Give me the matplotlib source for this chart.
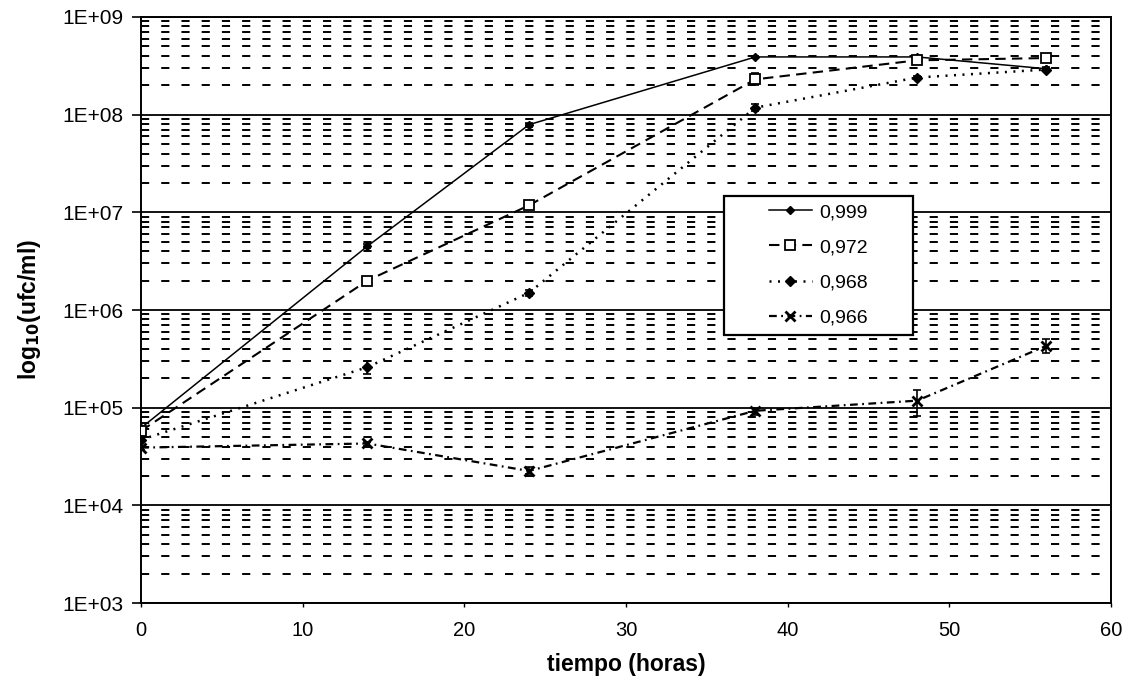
import matplotlib
matplotlib.use("Agg")
import matplotlib.pyplot as plt
from matplotlib.ticker import FixedLocator, LogLocator, NullFormatter, FixedFormatter
from matplotlib.patches import Rectangle
import numpy as np

plt.rcParams['font.family'] = ['Liberation Sans', 'DejaVu Sans']

# ---- data ----
time_h = [0, 14, 24, 38, 48, 56]
labels = ["0,999", "0,972", "0,968", "0,966"]
aw_0999 = [6.2e4, 4.5e6, 7.9e7, 3.9e8, 3.9e8, 2.95e8]
aw_0972 = [5.8e4, 2.0e6, 1.18e7, 2.3e8, 3.6e8, 3.8e8]
aw_0968 = [4.7e4, 2.6e5, 1.5e6, 1.18e8, 2.4e8, 2.9e8]
aw_0966 = [3.9e4, 4.3e4, 2.25e4, 9.3e4, 1.18e5, 4.3e5]
# error bar limits (lower, upper)
lo_0999 = [6.0e4, 4.3e6, 7.5e7, 3.8e8, 3.8e8, 2.85e8]
hi_0999 = [6.4e4, 4.7e6, 8.3e7, 4.0e8, 4.0e8, 3.05e8]
lo_0972 = [5.6e4, 1.9e6, 1.07e7, 2.0e8, 3.5e8, 3.5e8]
hi_0972 = [6.0e4, 2.1e6, 1.3e7, 2.7e8, 3.7e8, 4.1e8]
lo_0968 = [4.5e4, 2.2e5, 1.4e6, 1.08e8, 2.3e8, 2.8e8]
hi_0968 = [4.9e4, 3.0e5, 1.6e6, 1.28e8, 2.5e8, 3.0e8]
lo_0966 = [3.7e4, 4.1e4, 2.1e4, 8.5e4, 8.3e4, 3.6e5]
hi_0966 = [4.1e4, 4.5e4, 2.45e4, 1.0e5, 1.5e5, 5.1e5]
x_ticks = [0, 10, 20, 30, 40, 50, 60]
y_ticks = [1e3, 1e4, 1e5, 1e6, 1e7, 1e8, 1e9]
y_ticklabels = ["1E+03", "1E+04", "1E+05", "1E+06", "1E+07", "1E+08", "1E+09"]

fig = plt.figure(figsize=(11.33, 6.80), dpi=100)
ax = fig.add_axes([0.1245, 0.1132, 0.8561, 0.8618])
ax.set_yscale('log')
ax.set_xlim(0, 60)
ax.set_ylim(1e3, 1e9)

series = [
    (aw_0999, lo_0999, hi_0999, dict(linestyle='-', lw=1.1, marker='D', ms=4.5,
                                     mfc='black', mec='black')),
    (aw_0972, lo_0972, hi_0972, dict(linestyle=(0, (5, 3)), lw=1.5, marker='s', ms=6.5,
                                     mfc='white', mec='black', mew=1.3)),
    (aw_0968, lo_0968, hi_0968, dict(linestyle=(0, (0.8, 2.6)), lw=1.8, marker='D', ms=5.5,
                                     mfc='black', mec='black')),
    (aw_0966, lo_0966, hi_0966, dict(linestyle=(0, (3.5, 2, 0.8, 2)), lw=1.6, marker='x', ms=6.5,
                                     mfc='black', mec='black', mew=2)),
]
handles = []
for (vals, lo, hi, st), lab in zip(series, labels):
    v = np.array(vals)
    yerr = [v - np.array(lo), np.array(hi) - v]
    ax.errorbar(time_h, vals, yerr=yerr, fmt='none', ecolor='black',
                elinewidth=1.2, capsize=3, capthick=1.2, zorder=3)
    h, = ax.plot(time_h, vals, color='black', label=lab, zorder=3, **st)
    handles.append(h)

# grid
ax.yaxis.set_major_locator(FixedLocator(y_ticks))
ax.yaxis.set_major_formatter(FixedFormatter(y_ticklabels))
ax.yaxis.set_minor_locator(LogLocator(base=10, subs=np.arange(2, 10), numticks=20))
ax.yaxis.set_minor_formatter(NullFormatter())
ax.set_xticks(x_ticks)
ax.grid(which='major', axis='y', color='black', lw=1.3, linestyle='-')
ax.grid(which='minor', axis='y', color='black', lw=1.4, linestyle=(0, (4.2, 6.2)))
ax.grid(which='major', axis='x', visible=False)
ax.set_axisbelow(True)

ax.tick_params(axis='y', which='major', direction='out', length=6.5, width=1.2, pad=6, labelsize=15)
ax.tick_params(axis='y', which='minor', length=0)
ax.tick_params(axis='x', which='major', direction='out', length=3, width=1.0, pad=10, labelsize=14.5)
for s in ax.spines.values():
    s.set_linewidth(1.4)
    s.set_color('black')

ax.set_xlabel('tiempo (horas)', fontsize=16.5, fontweight='bold', labelpad=9)
ax.set_ylabel('log$_{\\mathbf{10}}$(ufc/ml)', fontsize=16.5, fontweight='bold', labelpad=14)

# legend box (frame drawn separately so that the entries sit centred in it)
frame = Rectangle((0.601, 0.457), 0.195, 0.2375, transform=ax.transAxes,
                  facecolor='white', edgecolor='black', lw=1.6, zorder=4)
ax.add_patch(frame)
leg = ax.legend(handles=handles, loc='center', bbox_to_anchor=(0.6985, 0.5768),
                fontsize=14, frameon=False, handlelength=2.2,
                handletextpad=0.4, labelspacing=0.9, borderpad=0.0)
leg.set_zorder(5)

fig.savefig('out.png', dpi=100)
